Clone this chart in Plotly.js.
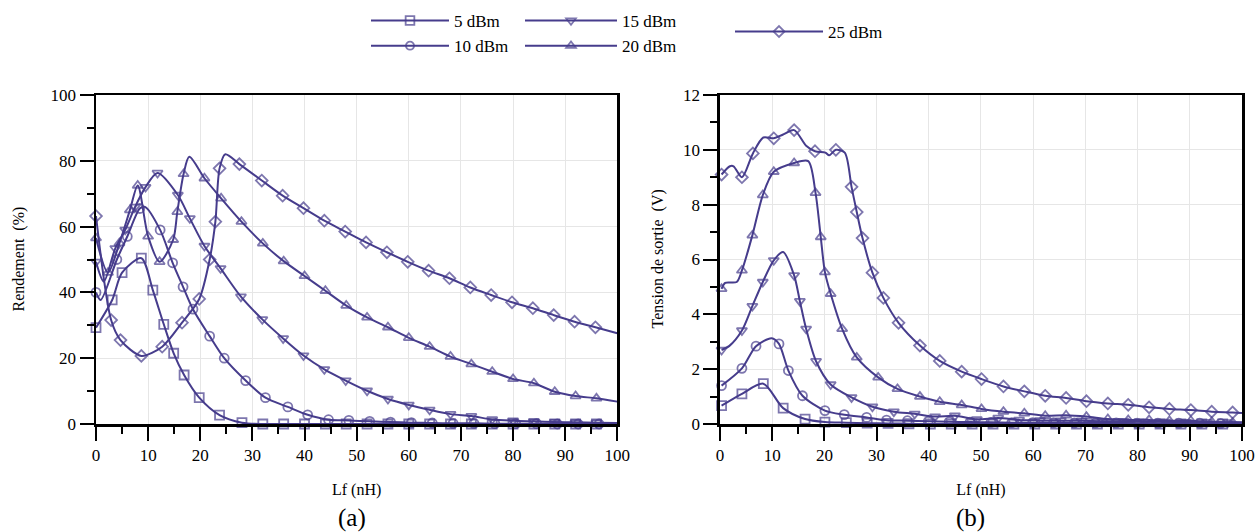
<!DOCTYPE html>
<html>
<head>
<meta charset="utf-8">
<script src="https://cdn.plot.ly/plotly-3.0.1.min.js"></script>
<style>html,body{margin:0;padding:0;background:#fff;}#chart{width:1258px;height:532px;}</style>
</head>
<body>
<div id="chart"></div>
<script>
const seriesNames = ['5 dBm', '10 dBm', '15 dBm', '20 dBm', '25 dBm'];

// (a) Rendement (%) vs Lf (nH)
const eff5X = [0, 3.1, 5, 8.7, 10.9, 13, 14.9, 16.9, 19.8, 23.7, 28, 32, 36, 40, 44, 48, 52, 56, 60, 64, 68, 72, 76, 80, 84, 88, 92, 96, 100];
const eff5Y = [29.3, 37.7, 46, 50.4, 40.7, 30.3, 21.5, 14.9, 8, 2.7, 0.4, 0, 0, 0, 0, 0, 0, 0, 0, 0, 0, 0, 0, 0, 0, 0, 0, 0, 0];
const eff5Bare = [100];

const eff10X = [0, 0.9, 4, 6, 8.4, 9.4, 12.3, 14.7, 16.7, 18.6, 21.8, 24.6, 28.7, 32.5, 36.8, 40.6, 44.6, 48.5, 52.5, 56.5, 60.5, 64.5, 68.5, 72.5, 76.5, 80.5, 84.5, 88.5, 92.5, 96.5, 100];
const eff10Y = [40, 37.7, 50, 57, 65.5, 66, 59, 49, 41.7, 34.9, 26.7, 20, 13.2, 8, 5.2, 2.8, 1.3, 1.1, 0.8, 0.6, 0.4, 0.3, 0.2, 0.2, 0.1, 0.1, 0.1, 0, 0, 0, 0];
const eff10Bare = [0.9, 9.4, 100];

const eff15X = [0, 1.5, 3.7, 5.6, 7.5, 9.5, 11.8, 15.7, 18, 20.8, 23.9, 27.8, 31.9, 35.9, 39.8, 43.8, 47.9, 52, 56, 60, 64, 68, 72, 76, 80, 84, 88, 92, 96, 100];
const eff15Y = [49.3, 43.3, 53.4, 59, 66, 72, 76.3, 69.6, 62.5, 54.1, 47.3, 38.7, 31.8, 26, 20.8, 16.6, 13.2, 10.1, 7.6, 5.8, 4.3, 3, 2.4, 1.4, 1, 0.8, 0.6, 0.5, 0.4, 0.3];
const eff15Bare = [1.5, 100];

const eff20X = [0, 2.3, 4.5, 6.5, 8, 10, 12.2, 14.8, 15.6, 16.8, 17.9, 20.8, 24, 27.9, 32, 36, 40, 44, 48, 52, 56, 60, 64, 68, 72, 76, 80, 84, 88, 92, 96, 100];
const eff20Y = [56.5, 46, 55, 65, 72.5, 57, 49.3, 56, 64.5, 76, 81.2, 74.7, 68.6, 61.5, 54.9, 49.5, 45, 40.5, 36, 32.4, 29.4, 26.2, 23.5, 20.5, 18.2, 15.9, 13.7, 12.4, 9.8, 8.5, 7.8, 6.8];
const eff20Bare = [17.9, 100];

const eff25X = [0, 2.9, 4.7, 8.7, 12.7, 16.5, 19.8, 21.8, 22.9, 23.7, 24.8, 27.5, 31.8, 35.8, 39.8, 43.8, 47.8, 51.8, 55.8, 59.8, 63.8, 67.8, 71.8, 75.8, 79.8, 83.8, 87.8, 91.8, 95.8, 100];
const eff25Y = [63.2, 31.6, 25.5, 20.7, 23.5, 30.8, 38, 50, 61.5, 77.7, 82, 79, 74, 69.4, 65.6, 61.8, 58.5, 55.2, 52.2, 49.3, 46.6, 44.3, 41.5, 39.2, 37, 35.2, 33.1, 31.1, 29.4, 27.6];
const eff25Bare = [24.8, 100];

// (b) Tension de sortie (V) vs Lf (nH)
const v5X = [0.3, 4.2, 8.3, 12.1, 16.3, 20.1, 24.2, 28.2, 32.2, 36.2, 40.3, 44.3, 48.3, 52.3, 56.3, 60.3, 64.3, 68.3, 72.3, 76.3, 80.3, 84.3, 88.3, 92.3, 96.3, 100];
const v5Y = [0.67, 1.1, 1.47, 0.58, 0.18, 0.07, 0.05, 0.03, 0.02, 0.01, 0, 0, 0, 0, 0, 0, 0, 0, 0, 0, 0, 0, 0, 0, 0, 0];
const v5Bare = [100];

const v10X = [0.3, 4.2, 6.9, 9.9, 11.3, 13.1, 15.8, 20.1, 23.8, 28.1, 31.9, 35.9, 39.9, 43.9, 47.9, 51.9, 55.9, 59.9, 63.9, 67.9, 71.9, 75.9, 79.9, 83.9, 87.9, 91.9, 95.9, 100];
const v10Y = [1.4, 2.03, 2.84, 3.13, 2.92, 1.95, 1.03, 0.49, 0.34, 0.24, 0.14, 0.12, 0.1, 0.08, 0.07, 0.06, 0.05, 0.05, 0.05, 0.04, 0.04, 0.04, 0.03, 0.03, 0.03, 0.03, 0.02, 0.02];
const v10Bare = [9.9, 100];

const v15X = [0.3, 1.8, 4.2, 6.2, 8.2, 10.3, 12.1, 14.2, 15.3, 16.5, 18.4, 21.2, 25.2, 29.2, 33.3, 37.3, 41.2, 45, 49.2, 53.3, 57.3, 61.3, 65.3, 69.3, 73.3, 77.3, 81.3, 85.3, 89.3, 93.3, 97.3, 100];
const v15Y = [2.7, 2.85, 3.41, 4.3, 5.18, 5.97, 6.27, 5.42, 4.48, 3.47, 2.29, 1.44, 0.97, 0.63, 0.45, 0.37, 0.27, 0.3, 0.17, 0.22, 0.15, 0.13, 0.12, 0.12, 0.1, 0.1, 0.08, 0.08, 0.07, 0.07, 0.06, 0.06];
const v15Bare = [1.8, 12.1, 100];

const v20X = [0.3, 1, 3.2, 4.2, 6.2, 8.2, 10.3, 14.2, 16.9, 18.3, 19.3, 20.1, 21.2, 23.4, 26.2, 30.3, 34, 38.3, 42.1, 46.3, 50.1, 54.3, 58.3, 62.3, 66.3, 70.2, 74.3, 78.2, 82.2, 86.1, 90.2, 94.2, 98.2, 100];
const v20Y = [4.93, 5.15, 5.18, 5.6, 6.88, 8.35, 9.2, 9.52, 9.59, 8.43, 6.82, 5.54, 4.75, 3.47, 2.43, 1.7, 1.28, 1.0, 0.81, 0.69, 0.55, 0.45, 0.39, 0.3, 0.32, 0.27, 0.18, 0.15, 0.15, 0.12, 0.12, 0.08, 0.06, 0.05];
const v20Bare = [1, 3.2, 16.9, 100];

const v25X = [0.3, 1.9, 2.6, 4.2, 6.3, 8.3, 10.3, 12, 14.2, 16.5, 18.2, 20.2, 20.9, 22.2, 23.9, 25.2, 26.2, 27.3, 29.2, 31.3, 34.2, 38.3, 42.1, 46.3, 50.1, 54.3, 58.3, 62.3, 66.3, 70.2, 74.3, 78.2, 82.2, 86.1, 90.2, 94.2, 98.2, 100];
const v25Y = [9.1, 9.4, 9.4, 9.0, 9.87, 10.45, 10.42, 10.55, 10.72, 10.15, 9.95, 9.9, 9.8, 10.0, 9.9, 8.65, 7.73, 6.78, 5.52, 4.6, 3.69, 2.86, 2.3, 1.91, 1.64, 1.37, 1.19, 1.03, 0.95, 0.83, 0.75, 0.7, 0.61, 0.55, 0.51, 0.45, 0.42, 0.4];
const v25Bare = [1.9, 2.6, 8.3, 12, 16.5, 20.2, 20.9, 23.9, 100];

const xTickVals = [0, 10, 20, 30, 40, 50, 60, 70, 80, 90, 100];
const effTitle = 'Rendement\u00a0 (%)';
const voltTitle = 'Tension de sortie\u00a0 (V)';
const xTitle = 'Lf (nH)';
const panelLabels = ['(a)', '(b)'];

// ---------- styling ----------
const COLOR = '#463C8C';
const FONT = 'Liberation Serif, DejaVu Serif, serif';
const symbols = ['square-open', 'circle-open', 'triangle-down-open', 'triangle-up-open', 'diamond-open'];
const legendIds = ['legend', 'legend', 'legend2', 'legend2', 'legend3'];

const effData = [[eff5X, eff5Y, eff5Bare], [eff10X, eff10Y, eff10Bare], [eff15X, eff15Y, eff15Bare], [eff20X, eff20Y, eff20Bare], [eff25X, eff25Y, eff25Bare]];
const vData = [[v5X, v5Y, v5Bare], [v10X, v10Y, v10Bare], [v15X, v15Y, v15Bare], [v20X, v20Y, v20Bare], [v25X, v25Y, v25Bare]];

function trace(d, i, xa, ya, showLegend) {
  const [xs, ys, bare] = d;
  return {
    type: 'scatter', mode: 'lines+markers',
    x: xs, y: ys, xaxis: xa, yaxis: ya,
    name: seriesNames[i], legendgroup: 'g' + i, legend: legendIds[i],
    showlegend: showLegend, cliponaxis: false,
    line: {color: COLOR, width: 2, shape: 'spline', smoothing: 0.8},
    marker: {symbol: symbols[i], color: COLOR, size: xs.map(x => bare.includes(x) ? 0 : 9), line: {color: COLOR, width: 1.8}}
  };
}

const traces = [];
effData.forEach((d, i) => traces.push(trace(d, i, 'x', 'y', true)));
vData.forEach((d, i) => traces.push(trace(d, i, 'x2', 'y2', false)));

const axisCommon = {
  showline: true, linecolor: '#000', linewidth: 2.5, mirror: true,
  ticks: 'outside', ticklen: 14, tickwidth: 2, tickcolor: '#000',
  showgrid: true, gridcolor: '#e6e6e6', gridwidth: 1, zeroline: false,
  tickfont: {family: FONT, size: 17, color: '#000'}
};

function xAx(domain, anchor) {
  return Object.assign({}, axisCommon, {
    domain: domain, anchor: anchor, range: [0, 100], tickmode: 'array', tickvals: xTickVals,
    minor: {dtick: 5, ticks: 'outside', ticklen: 7, tickwidth: 2, tickcolor: '#000', showgrid: false},
    title: {text: xTitle, font: {family: FONT, size: 16, color: '#000'}, standoff: 20}
  });
}
function yAx(anchor, range, dtick, minorDtick) {
  return Object.assign({}, axisCommon, {
    anchor: anchor, range: range, dtick: dtick, tick0: 0,
    minor: {dtick: minorDtick, ticks: 'outside', ticklen: 7, tickwidth: 2, tickcolor: '#000', showgrid: false}
  });
}

const legendCommon = {
  xanchor: 'left', xref: 'container', yref: 'container', bgcolor: 'rgba(0,0,0,0)', borderwidth: 0,
  font: {family: FONT, size: 17, color: '#000'}, tracegroupgap: 0, traceorder: 'grouped'
};

const titleFont = {family: FONT, size: 16, color: '#000'};
const labelFont = {family: FONT, size: 25, color: '#000'};

const layout = {
  width: 1258, height: 532,
  margin: {l: 96, r: 16, t: 95, b: 108, autoexpand: false},
  paper_bgcolor: '#fff', plot_bgcolor: '#fff',
  font: {family: FONT, size: 15, color: '#000'},
  xaxis: xAx([0, 0.4549], 'y'),
  yaxis: yAx('x', [0, 100], 20, 10),
  xaxis2: xAx([0.5445, 1], 'y2'),
  yaxis2: yAx('x2', [0, 12], 2, 1),
  legend: Object.assign({}, legendCommon, {x: 366 / 1258, y: 1 - 3 / 532, yanchor: 'top', itemwidth: 78}),
  legend2: Object.assign({}, legendCommon, {x: 520 / 1258, y: 1 - 3 / 532, yanchor: 'top', itemwidth: 92}),
  legend3: Object.assign({}, legendCommon, {x: 730 / 1258, y: 1 - 32 / 532, yanchor: 'middle', itemwidth: 88}),
  annotations: [
    {text: effTitle, textangle: -90, xref: 'paper', yref: 'paper', xanchor: 'center', yanchor: 'middle', x: (18 - 96) / 1146, y: 0.5, showarrow: false, font: titleFont},
    {text: voltTitle, textangle: -90, xref: 'paper', yref: 'paper', xanchor: 'center', yanchor: 'middle', x: (657 - 96) / 1146, y: 0.5, showarrow: false, font: titleFont},
    {text: panelLabels[0], xref: 'paper', yref: 'paper', xanchor: 'center', yanchor: 'middle', x: (352 - 96) / 1146, y: -(518 - 424) / 329, showarrow: false, font: labelFont},
    {text: panelLabels[1], xref: 'paper', yref: 'paper', xanchor: 'center', yanchor: 'middle', x: (970 - 96) / 1146, y: -(518 - 424) / 329, showarrow: false, font: labelFont}
  ],
  showlegend: true
};

Plotly.newPlot('chart', traces, layout, {staticPlot: true, displayModeBar: false});
</script>
</body>
</html>
